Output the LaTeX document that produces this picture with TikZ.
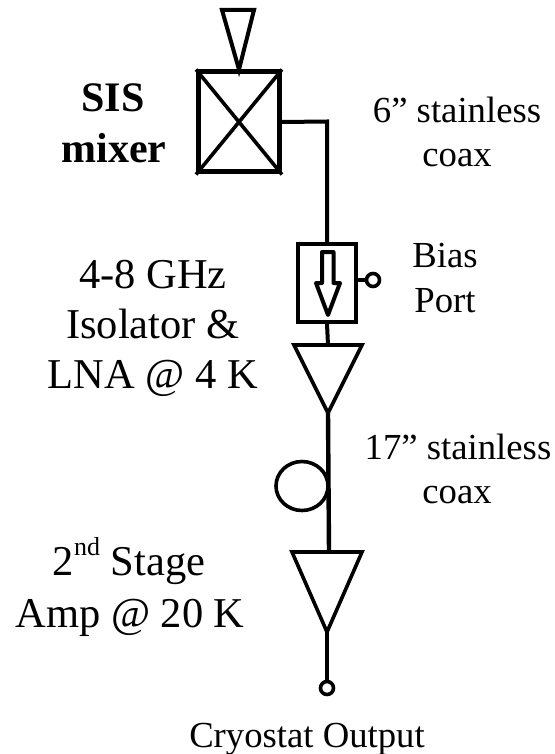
\documentclass[tikz,border=0pt]{standalone}
\usepackage{fontspec}
\usetikzlibrary{shapes.geometric}
\setmainfont{Liberation Serif}
\begin{document}
\begin{tikzpicture}[x=1pt,y=-1pt,
  thick line/.style={line width=4pt,line join=miter},
  mid line/.style={line width=3.6pt,line join=miter},
  lbl/.style={anchor=base,inner sep=0pt,font=\fontsize{36.7}{36.7}\selectfont},
  big lbl/.style={anchor=base,inner sep=0pt,font=\fontsize{42.5}{42.5}\selectfont},
  blbl/.style={anchor=base,inner sep=0pt,font=\fontsize{42}{42}\selectfont\bfseries},
  term/.style={circle,draw,line width=3.6pt,fill=white,minimum size=13pt,inner sep=0pt}]
\useasboundingbox (0,0) rectangle (554,754);
% SIS mixer
\node[draw,line width=5pt,minimum width=81pt,minimum height=100pt,inner sep=0pt] (mixer) at (239,122) {};
\draw[mid line] (mixer.north west) -- (mixer.south east) (mixer.north east) -- (mixer.south west);
% antenna
\coordinate (antL) at (222,10);
\coordinate (antR) at (254,10);
\draw[thick line] (antL) -- (antR) -- (mixer.north) -- cycle;
% isolator
\node[draw,mid line,minimum width=58pt,minimum height=78pt,inner sep=0pt] (iso) at (327,283) {};
\coordinate (bend) at (327,121.5);
\draw[thick line] (mixer.east) -- (bend) -- (iso.north);
\draw[thick line,line join=round] (322,252) -- (333.5,252) -- (333.5,283) -- (340,283) -- (328,315) -- (316,283) -- (322,283) -- cycle;
\node[term] (bias) at (373,280) {};
\draw[mid line] (iso.east |- bias) -- (bias);
% amp 1
\coordinate (a1L) at (294,345);
\coordinate (a1R) at (362,345);
\coordinate (a1T) at (328,413);
\coordinate (a1C) at (328,345);
\draw[mid line] (a1L) -- (a1R) -- (a1T) -- cycle;
\draw[thick line] (iso.south) -- (a1C);
% amp 2
\coordinate (a2L) at (292,552);
\coordinate (a2R) at (362,552);
\coordinate (a2T) at (327,632);
\coordinate (a2C) at (329,552);
\draw[mid line] (a2L) -- (a2R) -- (a2T) -- cycle;
\draw[line width=4.4pt] (a1T) -- (a2C);
% loop
\node[ellipse,draw,mid line,minimum width=52pt,minimum height=49pt,inner sep=0pt] (loop) at (302,486) {};
% output
\node[term] (out) at (327,688) {};
\draw[mid line] (a2T) -- (out);
% labels
\node[blbl] (t1) at (113,112) {SIS};
\node[blbl] (t2) at (114,163) {mixer};
\node[lbl] (t3) at (457,123) {6” stainless};
\node[lbl] (t4) at (457,167) {coax};
\node[lbl] (t5) at (445,267) {Bias};
\node[lbl] (t6) at (445,312) {Port};
\node[big lbl] (t7) at (153,288) {4-8 GHz};
\node[big lbl] (t8) at (153,338) {Isolator \&};
\node[big lbl] (t9) at (153,388) {LNA @ 4 K};
\node[lbl] (t10) at (458,459) {17” stainless};
\node[lbl] (t11) at (457,503) {coax};
\node[big lbl] (t12) at (129,575) {2\raisebox{0.45em}{\fontsize{26}{26}\selectfont nd} Stage};
\node[big lbl] (t13) at (130,627) {Amp @ 20 K};
\node[lbl] (t14) at (307,747) {Cryostat Output};
\end{tikzpicture}
\end{document}
